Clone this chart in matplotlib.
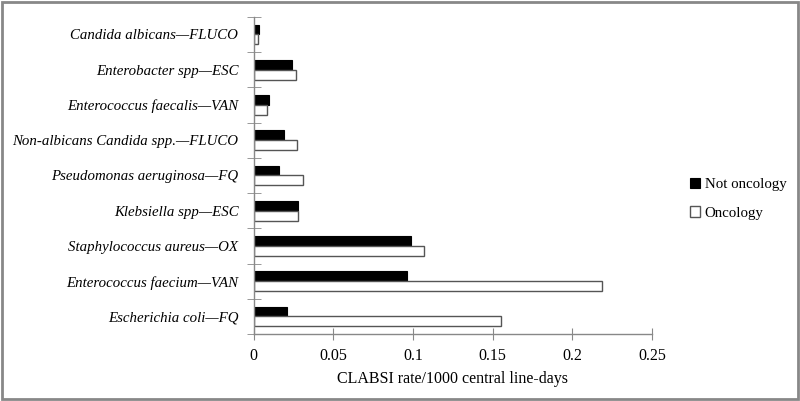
import matplotlib
matplotlib.use("Agg")
import matplotlib.pyplot as plt
import numpy as np
from matplotlib.patches import Rectangle

categories = [
    "Escherichia coli\u2014FQ",
    "Enterococcus faecium\u2014VAN",
    "Staphylococcus aureus\u2014OX",
    "Klebsiella spp\u2014ESC",
    "Pseudomonas aeruginosa\u2014FQ",
    "Non-albicans Candida spp.\u2014FLUCO",
    "Enterococcus faecalis\u2014VAN",
    "Enterobacter spp\u2014ESC",
    "Candida albicans\u2014FLUCO",
]
not_oncology = [0.0211, 0.0965, 0.0986, 0.0280, 0.0157, 0.0188, 0.0099, 0.0243, 0.0031]
oncology = [0.1555, 0.2184, 0.1068, 0.0280, 0.0312, 0.0274, 0.0086, 0.0268, 0.0030]
xticks = [0, 0.05, 0.1, 0.15, 0.2, 0.25]
xticklabels = ["0", "0.05", "0.1", "0.15", "0.2", "0.25"]

plt.rcParams['font.family'] = ['Liberation Serif', 'DejaVu Serif']

fig = plt.figure(figsize=(8, 4.01), dpi=100)
ax = fig.add_axes([0.317, 0.167, 0.498, 0.791])

y = np.arange(len(categories))
h = 0.28
ax.barh(y + h / 2, not_oncology, height=h, color='black', edgecolor='black', linewidth=0.8, label='Not oncology')
ax.barh(y - h / 2, oncology, height=h, color='white', edgecolor='#555555', linewidth=1.0, label='Oncology')

ax.set_ylim(-0.5, len(categories) - 0.5)
ax.set_xlim(0, 0.25)
ax.set_yticks(y)
ax.set_yticklabels(categories, fontsize=10.7, style='italic')
ax.set_yticks(np.arange(-0.5, len(categories), 1.0), minor=True)
ax.tick_params(axis='y', which='major', length=0, pad=11)
ax.tick_params(axis='y', which='minor', length=10, direction='inout', color='#888888')
ax.set_xticks(xticks)
ax.set_xticklabels(xticklabels, fontsize=11.5)
ax.tick_params(axis='x', length=8, direction='inout', color='#888888', pad=6)
ax.set_xlabel("CLABSI rate/1000 central line-days", fontsize=11.5, labelpad=5)

for s in ['top', 'right']:
    ax.spines[s].set_visible(False)
for s in ['left', 'bottom']:
    ax.spines[s].set_color('#888888')
    ax.spines[s].set_linewidth(1.0)

leg = ax.legend(loc='center left', bbox_to_anchor=(1.095, 0.426), frameon=False,
                fontsize=10.7, handlelength=0.7, handleheight=0.7, handletextpad=0.3,
                labelspacing=1.0, borderaxespad=0, borderpad=0)

fig.patches.append(Rectangle((0.002, 0.004), 0.996, 0.992, transform=fig.transFigure,
                             fill=False, edgecolor='#888888', linewidth=2))

fig.savefig("out.png", dpi=100)
